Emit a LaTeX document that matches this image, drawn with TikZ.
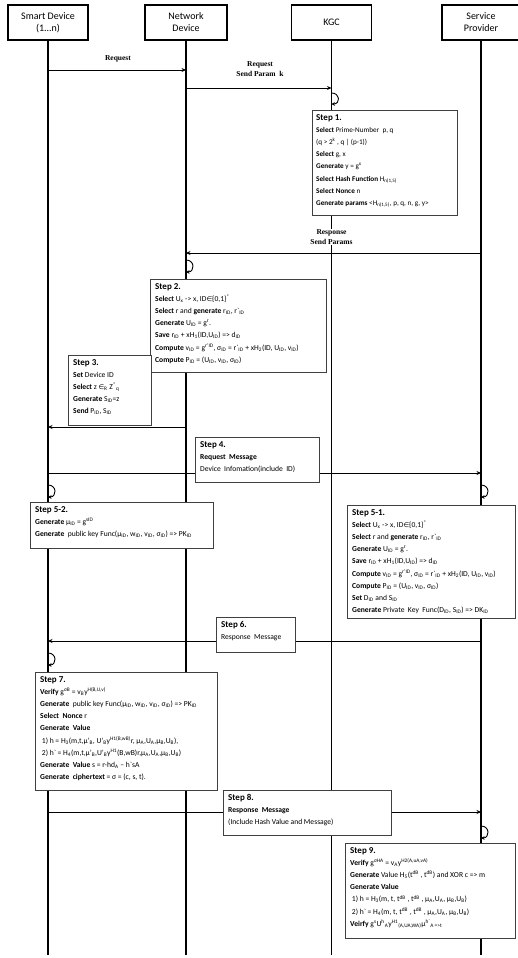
\documentclass[tikz,border=0pt]{standalone}
\usepackage{fontspec}
\setmainfont{Carlito}
\newfontfamily\serifb{Liberation Serif}
\newfontfamily\symf{DejaVu Sans}
\usetikzlibrary{arrows.meta}
\newcommand\mysub[1]{\textsubscript{#1}}
\newcommand\mysup[1]{\textsuperscript{#1}}
\newcommand\ttl{\fontsize{9}{10}\selectfont\bfseries}
\newcommand\elm{{\symf\fontsize{6.5}{8}\selectfont ∈}}
\begin{document}
\begin{tikzpicture}[x=1pt,y=-1pt,
  hdr/.style={draw, line width=1.6pt, fill=white, minimum height=35pt, align=center, font=\fontsize{10}{12}\selectfont, inner sep=0pt},
  life/.style={line width=1.5pt},
  msg/.style={line width=0.9pt, -{Stealth[length=4.5pt,width=4pt]}},
  loopa/.style={line width=0.9pt, -{Stealth[length=3.5pt,width=3.5pt]}},
  stepbox/.style={draw=black!75, line width=0.6pt, fill=white, anchor=north west, inner sep=0pt},
  steptext/.style={anchor=north west, align=left, inner sep=0pt, font=\fontsize{7.6}{12.2}\selectfont},
  lbl/.style={font=\serifb\bfseries\fontsize{7.5}{10}\selectfont, align=center, fill=white, inner sep=1pt}
]
\useasboundingbox (0,0) rectangle (518,958);

% headers
\node[hdr, minimum width=80pt] (sd) at (48,22.5) {Smart Device\\(1...n)};
\node[hdr, minimum width=82pt] (nd) at (186,22.5) {Network\\Device};
\node[hdr, minimum width=80pt] (kgc) at (331.5,22.5) {KGC};
\node[hdr, minimum width=78pt] (sp) at (481,22.5) {Service\\Provider};

% lifeline ends
\coordinate (sdE) at (48,955);
\coordinate (ndE) at (186,955);
\coordinate (kgE) at (331.5,955);
\coordinate (spE) at (481,955);
\draw[life] (sd.south) -- (sdE);
\draw[life] (nd.south) -- (ndE);
\draw[life] (kgc.south) -- (kgE);
\draw[life] (sp.south) -- (spE);

% message end points
\coordinate (m1a) at (48,70);   \coordinate (m1b) at (186,70);
\coordinate (m2a) at (186,88);  \coordinate (m2b) at (331.5,88);
\coordinate (m3a) at (481,253); \coordinate (m3b) at (186,253);
\coordinate (m4a) at (186,427); \coordinate (m4b) at (48,427);
\coordinate (m5a) at (48,473);  \coordinate (m5b) at (481,473);
\coordinate (m6a) at (481,641); \coordinate (m6b) at (48,641);
\coordinate (m7a) at (48,812);  \coordinate (m7b) at (481,812);
\draw[msg] (m1a) -- (m1b);
\draw[msg] (m2a) -- (m2b);
\draw[msg] (m3a) -- (m3b);
\draw[msg] (m4a) -- (m4b);
\draw[msg] (m5a) -- (m5b);
\draw[msg] (m6a) -- (m6b);
\draw[msg] (m7a) -- (m7b);

% self loops
\coordinate (q1a) at (331.5,93);  \coordinate (q1b) at (331.5,104);
\coordinate (q2a) at (186,260);   \coordinate (q2b) at (186,272);
\coordinate (q3a) at (481,485);   \coordinate (q3b) at (481,497);
\coordinate (q4a) at (48,485);    \coordinate (q4b) at (48,497);
\coordinate (q5a) at (48,653);    \coordinate (q5b) at (48,665);
\coordinate (q6a) at (481,826);   \coordinate (q6b) at (481,838);
\foreach \q in {q1,q2,q3,q4,q5,q6}
  \draw[loopa] (\q a) .. controls +(9,0) and +(9,0) .. (\q b);

% message labels
\node[lbl] (l1) at (118,59) {Request};
\node[lbl] (l2) at (260,69) {Request\\Send Param\ \ k};
\node[lbl] (l3) at (331.5,237) {Response\\Send Params};

% Step 1
\node[stepbox, minimum width=145pt, minimum height=105pt] (s1) at (312,110) {};
\node[steptext, font=\fontsize{7.2}{12.2}\selectfont] (s1t) at ([xshift=4pt,yshift=-4pt]s1.north west) {{\ttl Step 1.}\\
\textbf{Select} Prime-Number\ \ p, q\\
(q > 2\mysup{k} , q | (p-1))\\
\textbf{Select} g, x\\
\textbf{Generate} y = g\mysup{x}\\
\textbf{Select Hash Function} H\mysub{n(1,5)}\\
\textbf{Select Nonce} n\\
\textbf{Generate params} <H\mysub{n(1,5)}, p, q, n, g, y>};

% Step 2
\node[stepbox, minimum width=176pt, minimum height=93pt] (s2) at (150,279) {};
\node[steptext] (s2t) at ([xshift=5pt,yshift=-4pt]s2.north west) {{\ttl Step 2.}\\
\textbf{Select} U\mysub{x} -> x, ID\elm\{0,1\}\mysup{*}\\
\textbf{Select} r and \textbf{generate} r\mysub{ID}, r\textasciigrave\mysub{ID}\\
\textbf{Generate} U\mysub{ID} = g\mysup{r}.\\
\textbf{Save} r\mysub{ID} + xH\mysub{1}(ID,U\mysub{ID}) => d\mysub{ID}\\
\textbf{Compute} v\mysub{ID} = g\mysup{r'ID}, σ\mysub{ID} = r\textasciigrave\mysub{ID} + xH\mysub{2}(ID, U\mysub{ID}, v\mysub{ID})\\
\textbf{Compute} P\mysub{ID} = (U\mysub{ID}, v\mysub{ID}, σ\mysub{ID})};

% Step 3
\node[stepbox, minimum width=83pt, minimum height=70pt] (s3) at (68,355) {};
\node[steptext] (s3t) at ([xshift=5pt,yshift=-4pt]s3.north west) {{\ttl Step 3.}\\
\textbf{Set} Device ID\\
\textbf{Select} z \elm\mysub{R} Z\mysup{*}\mysub{q}\\
\textbf{Generate} S\mysub{ID}=z\\
\textbf{Send} P\mysub{ID}, S\mysub{ID}};

% Step 4
\node[stepbox, minimum width=124pt, minimum height=45pt] (s4) at (195,437) {};
\node[steptext] (s4t) at ([xshift=5pt,yshift=-4pt]s4.north west) {{\ttl Step 4.}\\
\textbf{Request\ \ Message}\\
Device\ \ Infomation(include\ \ ID)};

% Step 5-2
\node[stepbox, minimum width=183pt, minimum height=46pt] (s52) at (30,502) {};
\node[steptext] (s52t) at ([xshift=5pt,yshift=-4pt]s52.north west) {{\ttl Step 5-2.}\\
\textbf{Generate} μ\mysub{ID} = g\mysup{sID}\\
\textbf{Generate}\ \ public key Func(μ\mysub{ID}, w\mysub{ID}, v\mysub{ID}, σ\mysub{ID}) => PK\mysub{ID}};

% Step 5-1
\node[stepbox, minimum width=168pt, minimum height=113pt] (s51) at (347,505) {};
\node[steptext] (s51t) at ([xshift=5pt,yshift=-4pt]s51.north west) {{\ttl Step 5-1.}\\
\textbf{Select} U\mysub{x} -> x, ID\elm\{0,1\}\mysup{*}\\
\textbf{Select} r and \textbf{generate} r\mysub{ID}, r\textasciigrave\mysub{ID}\\
\textbf{Generate} U\mysub{ID} = g\mysup{r}.\\
\textbf{Save} r\mysub{ID} + xH\mysub{1}(ID,U\mysub{ID}) => d\mysub{ID}\\
\textbf{Compute} v\mysub{ID} = g\mysup{r'ID}, σ\mysub{ID} = r\textasciigrave\mysub{ID} + xH\mysub{2}(ID, U\mysub{ID}, v\mysub{ID})\\
\textbf{Compute} P\mysub{ID} = (U\mysub{ID}, v\mysub{ID}, σ\mysub{ID})\\
\textbf{Set} D\mysub{ID} and S\mysub{ID}\\
\textbf{Generate} Private\ \ Key\ \ Func(D\mysub{ID}, S\mysub{ID}) => DK\mysub{ID}};

% Step 6
\node[stepbox, minimum width=79pt, minimum height=35pt] (s6) at (216,617) {};
\node[steptext] (s6t) at ([xshift=5pt,yshift=-4pt]s6.north west) {{\ttl Step 6.}\\
Response\ \ Message};

% Step 7
\node[stepbox, minimum width=182pt, minimum height=118pt] (s7) at (35,672) {};
\node[steptext] (s7t) at ([xshift=5pt,yshift=-4pt]s7.north west) {{\ttl Step 7.}\\
\textbf{Verify} g\mysup{σB} = v\mysub{B}y\mysup{H(B,U,v)}\\
\textbf{Generate}\ \ public key Func(μ\mysub{ID}, w\mysub{ID}, v\mysub{ID}, σ\mysub{ID}) => PK\mysub{ID}\\
\textbf{Select\ \ Nonce} r\\
\textbf{Generate\ \ Value}\\
\ 1) h = H\mysub{3}(m,t,μ'\mysub{B}, U'\mysub{B}y\mysup{H1(B,wB)}r, μ\mysub{A},U\mysub{A},μ\mysub{B},U\mysub{B}),\\
\ 2) h\textasciigrave\ = H\mysub{4}(m,t,μ'\mysub{B},U'\mysub{B}y\mysup{H1}(B,wB)r,μ\mysub{A},U\mysub{A},μ\mysub{B},U\mysub{B})\\
\textbf{Generate\ \ Value} s = r-hd\mysub{A} – h\textasciigrave sA\\
\textbf{Generate\ \ ciphertext} = σ = (c, s, t).};

% Step 8
\node[stepbox, minimum width=168pt, minimum height=45pt] (s8) at (223,790) {};
\node[steptext] (s8t) at ([xshift=5pt,yshift=-4pt]s8.north west) {{\ttl Step 8.}\\
\textbf{Response\ \ Message}\\
(Include Hash Value and Message)};

% Step 9
\node[stepbox, minimum width=170pt, minimum height=95pt] (s9) at (345,843) {};
\node[steptext] (s9t) at ([xshift=5pt,yshift=-4pt]s9.north west) {{\ttl Step 9.}\\
\textbf{Verify} g\mysup{σHA} = v\mysub{A}y\mysup{H2(A,uA,vA)}\\
\textbf{Generate} Value H\mysub{5}(t\mysup{dB} , t\mysup{dB}) and XOR c => m\\
\textbf{Generate Value}\\
\ 1) h = H\mysub{3}(m, t, t\mysup{dB} , t\mysup{dB} , μ\mysub{A},U\mysub{A}, μ\mysub{B},U\mysub{B})\\
\ 2) h\textasciigrave\ = H\mysub{4}(m, t, t\mysup{dB} , t\mysup{dB} , μ\mysub{A},U\mysub{A}, μ\mysub{B},U\mysub{B})\\
\textbf{Veirfy} g\mysup{s}U\mysup{h}\mysub{A}y\mysup{H1}\mysub{(A,UA,WA)}μ\mysup{h\textasciigrave}\mysub{A =>t}};
\end{tikzpicture}
\end{document}
